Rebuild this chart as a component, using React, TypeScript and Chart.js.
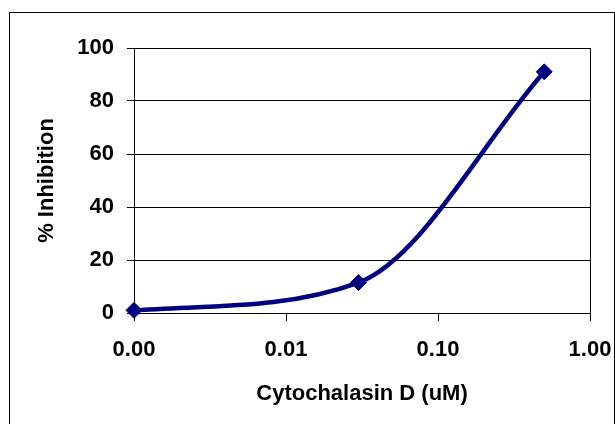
import { useEffect, useRef } from "react";
import { Chart, registerables } from "chart.js";

Chart.register(...registerables);

const doseValues = [0.001, 0.03, 0.5];
const inhibitionValues = [1, 11.5, 91];
const xTickValues = [0.001, 0.01, 0.1, 1];
const xTickLabels = ["0.00", "0.01", "0.10", "1.00"];
const yMin = 0;
const yMax = 100;
const yStep = 20;
const xTitle = "Cytochalasin D (uM)";
const yTitle = "% Inhibition";

export default function App() {
  const ref = useRef<HTMLCanvasElement>(null);

  useEffect(() => {
    if (!ref.current) return;
    const font = { family: "'Liberation Sans', Arial, sans-serif", size: 22, weight: "bold" as const };
    const frame = {
      id: "frame",
      beforeDatasetsDraw(chart: any) {
        const { ctx, chartArea: a } = chart;
        ctx.save();
        ctx.strokeStyle = "#000";
        ctx.lineWidth = 1;
        ctx.beginPath();
        const x = Math.round(a.right) + 0.5;
        ctx.moveTo(x, Math.round(a.top));
        ctx.lineTo(x, Math.round(a.bottom) + 1);
        ctx.stroke();
        ctx.restore();
      },
    };
    const chart = new Chart(ref.current, {
      type: "line",
      data: {
        datasets: [
          {
            data: doseValues.map((x, i) => ({ x, y: inhibitionValues[i] })),
            borderColor: "#000080",
            backgroundColor: "#000080",
            borderWidth: 4.5,
            cubicInterpolationMode: "monotone",
            pointStyle: "rectRot",
            pointRadius: 8,
            pointBorderWidth: 1,
            pointBackgroundColor: "#000080",
            pointBorderColor: "#000080",
            clip: false as any,
            fill: false,
          },
        ],
      },
      options: {
        responsive: false,
        animation: false,
        devicePixelRatio: 1,
        layout: { padding: { left: 0, right: 25, top: 48, bottom: 0 } },
        plugins: { legend: { display: false }, tooltip: { enabled: false } },
        scales: {
          x: {
            type: "logarithmic",
            min: 0.001,
            max: 1,
            afterBuildTicks: (s: any) => {
              s.ticks = xTickValues.map((v) => ({ value: v }));
            },
            afterFit: (s: any) => {
              s.height = 111;
              s.paddingLeft = 0;
              s.paddingRight = 0;
            },
            ticks: {
              callback: (_v: any, i: number) => xTickLabels[i],
              font,
              color: "#000",
              padding: 16,
              maxRotation: 0,
              autoSkip: false,
            },
            grid: { drawOnChartArea: false, color: "#000", tickLength: 8, lineWidth: 1 },
            border: { color: "#000", width: 1 },
            title: { display: true, text: xTitle, font, color: "#000", padding: { top: 0, bottom: 17 } },
          },
          y: {
            min: yMin,
            max: yMax,
            afterFit: (s: any) => {
              s.width = 134;
              s.paddingTop = 0;
              s.paddingBottom = 0;
            },
            ticks: { stepSize: yStep, font, color: "#000", padding: 13 },
            grid: { color: "#000", tickLength: 7, lineWidth: 1 },
            border: { color: "#000", width: 1 },
            title: { display: true, text: yTitle, font, color: "#000", padding: { top: 34, bottom: 0 } },
          },
        },
      },
      plugins: [frame],
    });
    return () => chart.destroy();
  }, []);

  return (
    <div style={{ position: "absolute", left: 0, top: 0, width: 615, height: 424, overflow: "hidden", background: "#fff" }}>
      <div
        style={{
          position: "absolute",
          left: 9,
          top: 12,
          width: 604,
          height: 500,
          border: "1px solid #000",
        }}
      />
      <canvas ref={ref} width={615} height={424} style={{ position: "absolute", left: 0, top: 0 }} />
    </div>
  );
}
